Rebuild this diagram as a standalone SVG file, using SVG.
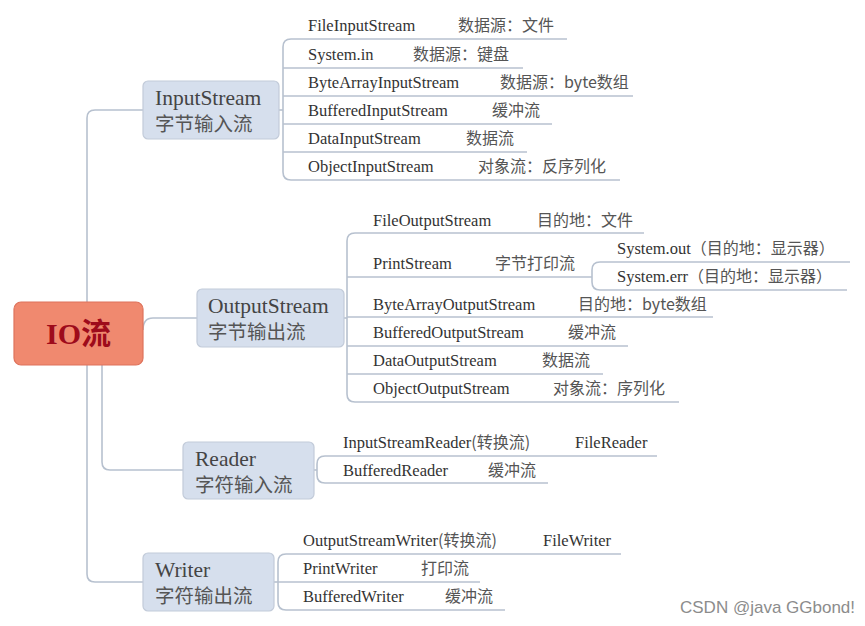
<svg xmlns="http://www.w3.org/2000/svg" width="865" height="626" viewBox="0 0 865 626">
<style>
.bg{fill:#ffffff}
.con{fill:none;stroke:#b7c1cf;stroke-width:1.6}
.ul{fill:none;stroke:#b7c1cf;stroke-width:1.6}
.box{fill:#d6dfed;stroke:#c2cbd9;stroke-width:1.2}
.root{fill:#f0896f;stroke:#de735c;stroke-width:1.2}
.en{font-family:"Liberation Serif","DejaVu Serif",serif;font-size:16.5px;fill:#333333}
.zh{font-family:"Noto Sans CJK SC","Noto Sans",sans-serif;font-size:16px;fill:#555555}
.ben{font-family:"Liberation Serif","DejaVu Serif",serif;font-size:21.5px;fill:#444444}
.bzh{font-family:"Noto Sans CJK SC","Noto Sans",sans-serif;font-size:19.5px;fill:#555555}
.rt{font-family:"Liberation Serif","Noto Sans CJK SC",serif;font-size:30px;font-weight:bold;fill:#9e0b1b}
.wm{font-family:"Liberation Sans",Arial,sans-serif;font-size:17px;fill:#8c8c8c}
</style>
<rect class="bg" x="0" y="0" width="865" height="626"/>
<g id="connectors">
  <path class="con" d="M87,302 V118 Q87,110 95,110 H143"/>
  <path class="con" d="M143,330 Q143,318 153,318 H197"/>
  <path class="con" d="M102,365 V462 Q102,470 110,470 H183"/>
  <path class="con" d="M87,365 V574 Q87,582 95,582 H143"/>
  <path class="con" d="M279,110 H283"/>
  <path class="con" d="M291,39 Q283,39 283,47 V172 Q283,180 291,180"/>
  <path class="con" d="M344,318 H347"/>
  <path class="con" d="M355,233 Q347,233 347,241 V394 Q347,402 355,402"/>
  <path class="con" d="M600,262 Q592,262 592,270 V282 Q592,290 600,290"/>
  <path class="con" d="M314,470 H317"/>
  <path class="con" d="M325,456 Q317,456 317,464 V475 Q317,483 325,483"/>
  <path class="con" d="M274,582 H278"/>
  <path class="con" d="M286,554 Q278,554 278,562 V602 Q278,610 286,610"/>
</g>
<g id="root">
  <rect class="root" x="14" y="302" width="129" height="63" rx="7"/>
  <text class="rt" x="78.5" y="344" text-anchor="middle">IO流</text>
</g>
<g id="inputstream">
  <rect class="box" x="143" y="81" width="136" height="58" rx="5"/>
  <text class="ben" x="155" y="105">InputStream</text>
  <text class="bzh" x="155" y="131">字节输入流</text>
</g>
<g id="outputstream">
  <rect class="box" x="197" y="289" width="147" height="58" rx="5"/>
  <text class="ben" x="208" y="313">OutputStream</text>
  <text class="bzh" x="208" y="339">字节输出流</text>
</g>
<g id="reader">
  <rect class="box" x="183" y="442" width="131" height="57" rx="5"/>
  <text class="ben" x="195" y="466">Reader</text>
  <text class="bzh" x="195" y="492">字符输入流</text>
</g>
<g id="writer">
  <rect class="box" x="143" y="553" width="131" height="58" rx="5"/>
  <text class="ben" x="155" y="577">Writer</text>
  <text class="bzh" x="155" y="603">字符输出流</text>
</g>
<g id="fileinputstream">
  <path class="ul" d="M291,39 H567"/>
  <text class="en" x="308" y="31">FileInputStream</text>
  <text class="zh" x="458" y="31">数据源：文件</text>
</g>
<g id="systemin">
  <path class="ul" d="M283,68 H523"/>
  <text class="en" x="308" y="60">System.in</text>
  <text class="zh" x="413" y="60">数据源：键盘</text>
</g>
<g id="bytearrayinputstream">
  <path class="ul" d="M283,96 H633"/>
  <text class="en" x="308" y="88">ByteArrayInputStream</text>
  <text class="zh" x="500" y="88">数据源：byte数组</text>
</g>
<g id="bufferedinputstream">
  <path class="ul" d="M283,124 H552"/>
  <text class="en" x="308" y="116">BufferedInputStream</text>
  <text class="zh" x="492" y="116">缓冲流</text>
</g>
<g id="datainputstream">
  <path class="ul" d="M283,152 H527"/>
  <text class="en" x="308" y="144">DataInputStream</text>
  <text class="zh" x="466" y="144">数据流</text>
</g>
<g id="objectinputstream">
  <path class="ul" d="M291,180 H620"/>
  <text class="en" x="308" y="172">ObjectInputStream</text>
  <text class="zh" x="478" y="172">对象流：反序列化</text>
</g>
<g id="fileoutputstream">
  <path class="ul" d="M355,233 H644"/>
  <text class="en" x="373" y="226">FileOutputStream</text>
  <text class="zh" x="537" y="226">目的地：文件</text>
</g>
<g id="printstream">
  <path class="ul" d="M347,277 H592"/>
  <text class="en" x="373" y="269">PrintStream</text>
  <text class="zh" x="495" y="269">字节打印流</text>
</g>
<g id="systemout">
  <path class="ul" d="M600,262 H850"/>
  <text class="en" x="617" y="254">System.out<tspan class="zh">（目的地：显示器）</tspan></text>
</g>
<g id="systemerr">
  <path class="ul" d="M600,290 H847"/>
  <text class="en" x="617" y="282">System.err<tspan class="zh">（目的地：显示器）</tspan></text>
</g>
<g id="bytearrayoutputstream">
  <path class="ul" d="M347,317 H713"/>
  <text class="en" x="373" y="310">ByteArrayOutputStream</text>
  <text class="zh" x="578" y="310">目的地：byte数组</text>
</g>
<g id="bufferedoutputstream">
  <path class="ul" d="M347,346 H628"/>
  <text class="en" x="373" y="338">BufferedOutputStream</text>
  <text class="zh" x="568" y="338">缓冲流</text>
</g>
<g id="dataoutputstream">
  <path class="ul" d="M347,374 H603"/>
  <text class="en" x="373" y="366">DataOutputStream</text>
  <text class="zh" x="542" y="366">数据流</text>
</g>
<g id="objectoutputstream">
  <path class="ul" d="M355,402 H679"/>
  <text class="en" x="373" y="394">ObjectOutputStream</text>
  <text class="zh" x="553" y="394">对象流：序列化</text>
</g>
<g id="inputstreamreader">
  <path class="ul" d="M325,456 H657"/>
  <text class="en" x="343" y="448">InputStreamReader<tspan class="zh">(转换流)</tspan></text>
  <text class="en" x="575" y="448">FileReader</text>
</g>
<g id="bufferedreader">
  <path class="ul" d="M325,483 H548"/>
  <text class="en" x="343" y="476">BufferedReader</text>
  <text class="zh" x="488" y="476">缓冲流</text>
</g>
<g id="outputstreamwriter">
  <path class="ul" d="M286,554 H621"/>
  <text class="en" x="303" y="546">OutputStreamWriter<tspan class="zh">(转换流)</tspan></text>
  <text class="en" x="543" y="546">FileWriter</text>
</g>
<g id="printwriter">
  <path class="ul" d="M278,582 H480"/>
  <text class="en" x="303" y="574">PrintWriter</text>
  <text class="zh" x="421" y="574">打印流</text>
</g>
<g id="bufferedwriter">
  <path class="ul" d="M286,610 H505"/>
  <text class="en" x="303" y="602">BufferedWriter</text>
  <text class="zh" x="445" y="602">缓冲流</text>
</g>
<text class="wm" x="680" y="613">CSDN @java GGbond!</text>
</svg>
